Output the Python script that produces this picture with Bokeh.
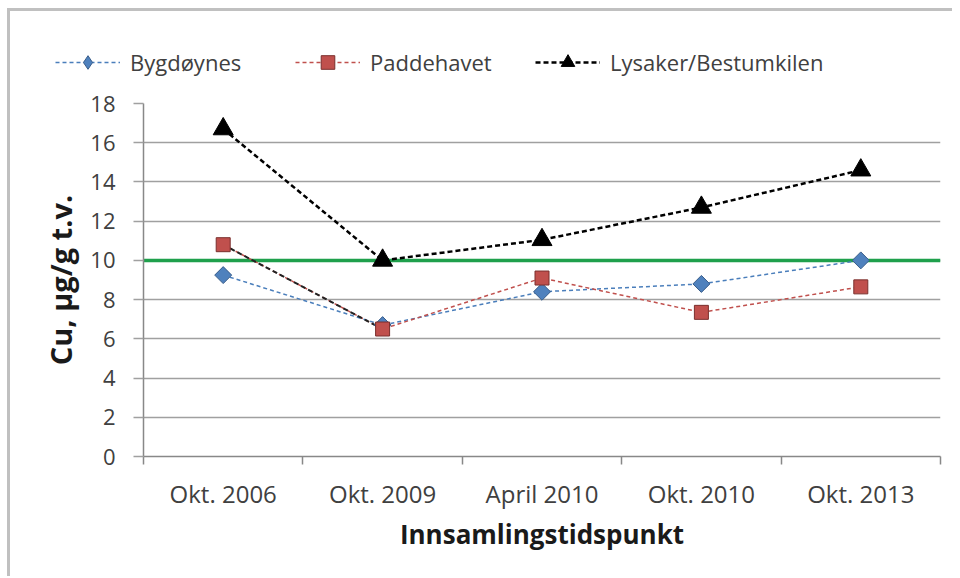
from bokeh.plotting import figure
from bokeh.models import FixedTicker, Legend, LegendItem, Span
from bokeh.embed import file_html
from bokeh.resources import INLINE

categories = ["Okt. 2006", "Okt. 2009", "April 2010", "Okt. 2010", "Okt. 2013"]
bygdoynes = [9.25, 6.7, 8.4, 8.8, 10.0]
paddehavet = [10.8, 6.5, 9.1, 7.35, 8.65]
lysaker = [16.7, 10.0, 11.05, 12.7, 14.6]
series_names = ["Bygdøynes", "Paddehavet", "Lysaker/Bestumkilen"]
y_ticks = [0, 2, 4, 6, 8, 10, 12, 14, 16, 18]
threshold = 10

FONT = "Open Sans"
TXT = "#404040"
GRID = "#a0a0a0"
EDGE = "#c0c0c0"

n = len(categories)
xs = [i + 0.5 for i in range(n)]
all_series = [bygdoynes, paddehavet, lysaker]

styles = [
    dict(line_color="#4a7ebb", line_width=1.5, line_dash="4 3",
         marker="square", legend_marker="diamond", angle=0.785398, size=12,
         fill_color="#4f81bd", mline="#385d8a"),
    dict(line_color="#c0504d", line_width=1.5, line_dash="4 3",
         marker="square", legend_marker="square", angle=0.0, size=14,
         fill_color="#c0504d", mline="#7a2f2d"),
    dict(line_color="black", line_width=2.5, line_dash="5 3",
         marker="triangle", legend_marker="triangle", angle=0.0, size=20,
         fill_color="black", mline="black"),
]

# ---------- legend strip (separate root, its frame spans the whole width) ----------
leg = figure(width=952, height=80, x_range=(0, n), y_range=(100, 101),
             output_backend="svg", toolbar_location=None,
             min_border_left=0, min_border_right=0,
             min_border_top=0, min_border_bottom=0)
leg.axis.visible = False
leg.grid.visible = False
leg.outline_line_color = None
leg.border_fill_alpha = 0
leg.background_fill_alpha = 0
leg.styles = {"background": f"linear-gradient({EDGE},{EDGE}) 7px 8px / 3px 100% no-repeat, "
                            f"linear-gradient({EDGE},{EDGE}) 7px 8px / 100% 3px no-repeat"}
items = []
for name, vals, st in zip(series_names, all_series, styles):
    lr = leg.line(xs, vals, line_color=st["line_color"], line_width=st["line_width"],
                  line_dash=st["line_dash"])
    sr = leg.scatter(xs, vals, marker=st["legend_marker"], size=st["size"],
                     fill_color=st["fill_color"], line_color=st["mline"])
    items.append(LegendItem(label=name, renderers=[lr, sr]))
legend = Legend(items=items, orientation="horizontal", location=(55, 1))
legend.glyph_width = 65
legend.glyph_height = 34
legend.label_standoff = 10
legend.label_width = 130
legend.spacing = 35
legend.padding = 0
legend.margin = 0
legend.border_line_color = None
legend.background_fill_alpha = 0
legend.label_text_font = FONT
legend.label_text_font_size = "22px"
legend.label_text_color = TXT
leg.add_layout(legend, "center")

# ---------- main chart ----------
p = figure(width=952, height=496, x_range=(0, n), y_range=(0, 18),
           output_backend="svg", toolbar_location=None,
           min_border_left=143, min_border_right=12,
           min_border_top=23, min_border_bottom=120)
p.outline_line_color = None
p.border_fill_alpha = 0
p.background_fill_color = "white"
p.styles = {"background": f"linear-gradient({EDGE},{EDGE}) 7px 0px / 3px 100% no-repeat"}

p.xaxis.ticker = FixedTicker(ticks=xs, minor_ticks=list(range(n + 1)))
p.xaxis.major_label_overrides = {x: c for x, c in zip(xs, categories)}
p.xaxis.major_tick_line_color = None
p.xaxis.major_tick_out = 0
p.xaxis.major_tick_in = 0
p.xaxis.minor_tick_out = 8
p.xaxis.minor_tick_in = 0
p.xaxis.minor_tick_line_color = "#888888"
p.xaxis.minor_tick_line_width = 1.5
p.xaxis.axis_line_color = "#888888"
p.xaxis.axis_line_width = 1.5
p.xaxis.major_label_standoff = 12
p.xaxis.major_label_text_font = FONT
p.xaxis.major_label_text_font_size = "24px"
p.xaxis.major_label_text_color = TXT
p.xaxis.axis_label = "Innsamlingstidspunkt"
p.xaxis.axis_label_text_font = FONT
p.xaxis.axis_label_text_font_style = "bold"
p.xaxis.axis_label_text_font_size = "26px"
p.xaxis.axis_label_text_color = "#1a1a1a"
p.xaxis.axis_label_standoff = 3

p.yaxis.ticker = FixedTicker(ticks=y_ticks)
p.yaxis.major_tick_out = 10
p.yaxis.major_tick_in = 0
p.yaxis.major_tick_line_color = GRID
p.yaxis.major_tick_line_width = 1.5
p.yaxis.minor_tick_line_color = None
p.yaxis.axis_line_color = "#888888"
p.yaxis.axis_line_width = 1.5
p.yaxis.major_label_standoff = 18
p.yaxis.major_label_text_font = FONT
p.yaxis.major_label_text_font_size = "22px"
p.yaxis.major_label_text_color = TXT
p.yaxis.axis_label = "Cu, µg/g t.v."
p.yaxis.axis_label_text_font = FONT
p.yaxis.axis_label_text_font_style = "bold"
p.yaxis.axis_label_text_font_size = "29px"
p.yaxis.axis_label_text_color = "#1a1a1a"
p.yaxis.axis_label_standoff = 7

p.xgrid.visible = False
p.ygrid.ticker = FixedTicker(ticks=y_ticks)
p.ygrid.grid_line_color = GRID
p.ygrid.grid_line_width = 1.5

p.add_layout(Span(location=threshold, dimension="width", line_color="#1fa04c",
                  line_width=3.5, level="underlay"))

for vals, st in zip(all_series, styles):
    p.line(xs, vals, line_color=st["line_color"], line_width=st["line_width"],
           line_dash=st["line_dash"])
    if vals is paddehavet:
        p.line(xs[:2], vals[:2], line_color="#222222", line_width=2, line_dash="5 3")
for vals, st in zip(all_series, styles):
    p.scatter(xs, vals, marker=st["marker"], angle=st["angle"], size=st["size"],
              fill_color=st["fill_color"], line_color=st["mline"], line_width=1)

open("out.html", "w").write(file_html([leg, p], INLINE))
